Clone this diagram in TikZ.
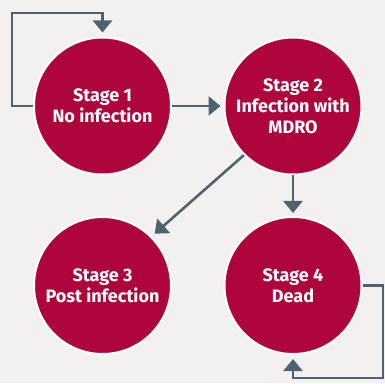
\documentclass[tikz,border=0pt]{standalone}
\usepackage{fontspec}
\setmainfont{Fira Sans}
\usetikzlibrary{arrows.meta}
\definecolor{stagered}{HTML}{AE063C}
\definecolor{flowgray}{HTML}{4E636E}
\definecolor{backgray}{HTML}{F2F1EF}

\begin{document}
\begin{tikzpicture}[x=1pt,y=1pt,
	stage/.style={shape=circle,fill=stagered,draw=white,line width=2pt,minimum size=137pt,inner sep=0pt,
		text=white,align=center,font=\fontsize{18}{21}\selectfont\bfseries},
	flow/.style={draw=flowgray,line width=2.6pt,-{Triangle[width=19pt,length=12pt]}}]
	\fill[backgray] (0,0) rectangle (385,383);
	\useasboundingbox (0,0) rectangle (385,383);

	\node[stage] (s1) at (102.5,277)  {Stage 1\\No infection};
	\node[stage] (s2) at (293,277)    {Stage 2\\Infection with\\MDRO};
	\node[stage] (s3) at (102.5,97.5) {Stage 3\\Post infection};
	\node[stage] (s4) at (293,97.5)   {Stage 4\\Dead};

	\coordinate (loopa) at (12,370);
	\coordinate (loopb) at (383,5);

	\path[flow,shorten >=4pt] (s1.west) -| (loopa) -| (s1.north);
	\path[flow,shorten >=3pt] (s1.east) -- (s2.west);
	\path[flow,shorten >=4pt] (s2.225) -- (s3.45);
	\path[flow,shorten >=3pt] (s2.south) -- (s4.north);
	\path[flow,shorten >=4pt] (s4.east) -| (loopb) -| (s4.south);

\end{tikzpicture}
\end{document}
